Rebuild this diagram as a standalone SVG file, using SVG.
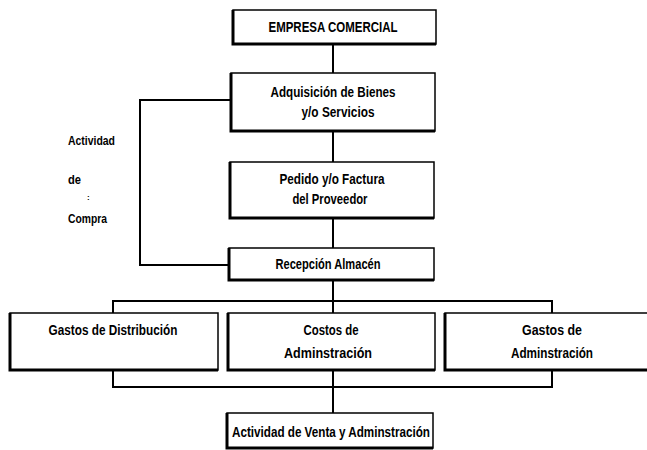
<svg xmlns="http://www.w3.org/2000/svg" width="647" height="450" viewBox="0 0 647 450">
<style>
.box{fill:#fff;stroke:#000;stroke-width:1.5}
.edge{fill:none;stroke:#000;stroke-width:3}
.ln{fill:none;stroke:#000;stroke-width:2}
text{font-family:"Liberation Sans",Arial,sans-serif;font-weight:bold;font-size:15px;fill:#000;text-anchor:middle}
.side{text-anchor:start;font-size:13px}
</style>
<rect width="647" height="450" fill="#fff"/>
<g id="connectors">
<line class="ln" x1="333" y1="44" x2="333" y2="73"/>
<line class="ln" x1="333" y1="131" x2="333" y2="162"/>
<line class="ln" x1="333" y1="218" x2="333" y2="248"/>
<polyline class="ln" points="231,100 140,100 140,265 229,265"/>
<line class="ln" x1="333" y1="280" x2="333" y2="313"/>
<polyline class="ln" points="113,313 113,301 552,301 552,313"/>
<polyline class="ln" points="113,370 113,387 552,387 552,370"/>
<line class="ln" x1="333" y1="370" x2="333" y2="413"/>
</g>
<g id="n1">
<rect class="box" x="233" y="10" width="203" height="34"/>
<polyline class="edge" points="233,10 233,44 436,44"/>
<text x="333" y="32" textLength="129" lengthAdjust="spacingAndGlyphs">EMPRESA COMERCIAL</text>
</g>
<g id="n2">
<rect class="box" x="231" y="73" width="204" height="58"/>
<polyline class="edge" points="231,73 231,131 435,131"/>
<text x="333" y="97" textLength="125" lengthAdjust="spacingAndGlyphs">Adquisición de Bienes</text>
<text x="338" y="117" textLength="73" lengthAdjust="spacingAndGlyphs">y/o Servicios</text>
</g>
<g id="n3">
<rect class="box" x="230" y="162" width="204" height="56"/>
<polyline class="edge" points="230,162 230,218 434,218"/>
<text x="332" y="184" textLength="105" lengthAdjust="spacingAndGlyphs">Pedido y/o Factura</text>
<text x="330" y="204" textLength="75" lengthAdjust="spacingAndGlyphs">del Proveedor</text>
</g>
<g id="n4">
<rect class="box" x="229" y="248" width="205" height="32"/>
<polyline class="edge" points="229,248 229,280 434,280"/>
<text x="328" y="269" textLength="105" lengthAdjust="spacingAndGlyphs">Recepción Almacén</text>
</g>
<g id="side-label">
<text class="side" x="68" y="145" textLength="47" lengthAdjust="spacingAndGlyphs">Actividad</text>
<text class="side" x="68" y="184" textLength="13" lengthAdjust="spacingAndGlyphs">de</text>
<text class="side" x="87" y="200" style="font-size:8px">:</text>
<text class="side" x="68" y="223" textLength="39" lengthAdjust="spacingAndGlyphs">Compra</text>
</g>
<g id="n5">
<rect class="box" x="10" y="313" width="208" height="57"/>
<polyline class="edge" points="10,313 10,370 218,370"/>
<text x="113" y="335" textLength="129" lengthAdjust="spacingAndGlyphs">Gastos de Distribución</text>
</g>
<g id="n6">
<rect class="box" x="228" y="313" width="207" height="57"/>
<polyline class="edge" points="228,313 228,370 435,370"/>
<text x="331" y="335" textLength="55" lengthAdjust="spacingAndGlyphs">Costos de</text>
<text x="328" y="358" textLength="88" lengthAdjust="spacingAndGlyphs">Adminstración</text>
</g>
<g id="n7">
<rect class="box" x="445" y="313" width="215" height="57"/>
<polyline class="edge" points="445,313 445,370 660,370"/>
<text x="552" y="335" textLength="60" lengthAdjust="spacingAndGlyphs">Gastos  de</text>
<text x="552" y="358" textLength="82" lengthAdjust="spacingAndGlyphs">Adminstración</text>
</g>
<g id="n8">
<rect class="box" x="227" y="413" width="206" height="35"/>
<polyline class="edge" points="227,413 227,448 433,448"/>
<text x="331" y="437" textLength="198" lengthAdjust="spacingAndGlyphs">Actividad de Venta y Adminstración</text>
</g>
</svg>
